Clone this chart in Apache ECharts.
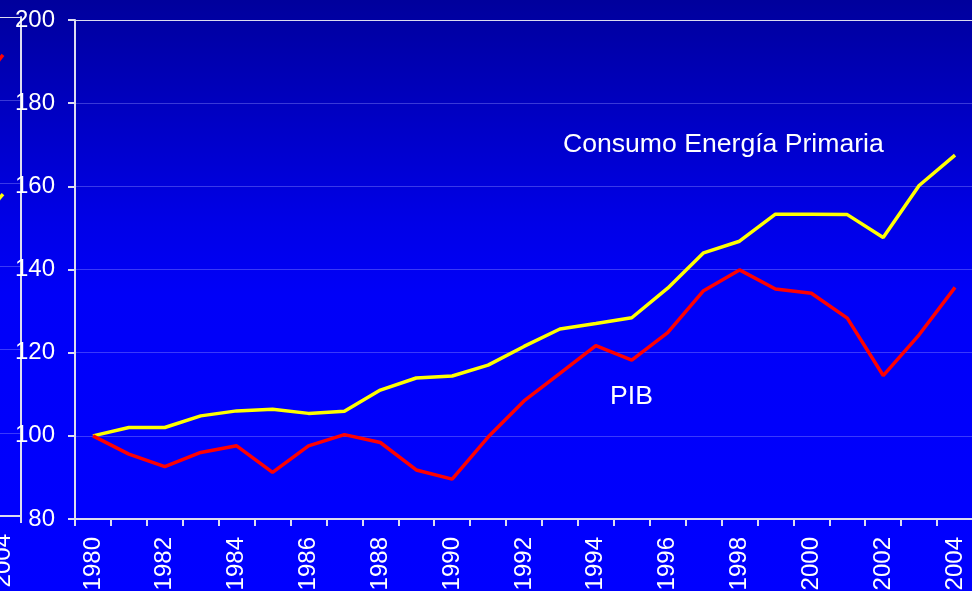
<!DOCTYPE html>
<html>
<head>
<meta charset="utf-8">
<script src="https://cdn.jsdelivr.net/npm/echarts@6/dist/echarts.min.js"></script>
<style>
html,body{margin:0;padding:0;}
#chart{width:972px;height:591px;background:linear-gradient(to bottom,#00009c 0%,#0000b4 12%,#0000cc 24%,#0000e8 38%,#0000f8 50%,#0000ff 100%);}
</style>
</head>
<body>
<div id="chart"></div>
<script>
// Main chart data
const years = ['1980','1981','1982','1983','1984','1985','1986','1987','1988','1989','1990','1991','1992','1993','1994','1995','1996','1997','1998','1999','2000','2001','2002','2003','2004'];
const consumoEnergia = [100,102.0,102.0,104.8,106.0,106.4,105.4,105.9,111.0,113.9,114.4,117.0,121.5,125.7,127.0,128.4,135.5,144.0,146.8,153.3,153.3,153.2,147.7,160.2,167.5];
const pib = [100,95.6,92.6,96.0,97.6,91.2,97.6,100.3,98.4,91.8,89.6,99.7,108.4,115.0,121.7,118.2,124.8,134.9,139.9,135.3,134.3,128.3,114.5,124.3,135.7];
const yTicks = {min:80, max:200, step:20};

// Clipped neighbouring chart (only its last years are visible)
const leftYears = ['2003','2004'];
const leftRed = [180.0,190.9];
const leftYellow = [147.5,157.4];

const axisColor = '#dcdcf0';
const gridColor = 'rgba(150,150,255,0.38)';
const font = 'Liberation Sans, Arial, sans-serif';

const chart = echarts.init(document.getElementById('chart'), null, {renderer:'canvas'});
chart.setOption({
  backgroundColor: 'transparent',
  animation: false,
  grid: [
    {left:75, top:20, width:898, bottom:72, containLabel:false, outerBoundsMode:'none'},
    {left:-51, top:17, width:72, bottom:75, containLabel:false, outerBoundsMode:'none'}
  ],
  xAxis: [
    {
      type:'category', gridIndex:0, data:years, boundaryGap:true,
      axisLine:{lineStyle:{color:axisColor, width:2}},
      axisTick:{show:true, interval:0, length:7, lineStyle:{color:axisColor, width:2}},
      axisLabel:{interval:1, rotate:90, margin:18, color:'#ffffff', fontSize:24, fontFamily:font},
      splitLine:{show:false}
    },
    {
      type:'category', gridIndex:1, data:leftYears, boundaryGap:true,
      axisLine:{lineStyle:{color:axisColor, width:2}},
      axisTick:{show:true, interval:0, length:7, lineStyle:{color:axisColor, width:2}},
      axisLabel:{interval:0, rotate:90, margin:18, color:'#ffffff', fontSize:24, fontFamily:font},
      splitLine:{show:false}
    }
  ],
  yAxis: [
    {
      type:'value', gridIndex:0, min:yTicks.min, max:yTicks.max, interval:yTicks.step,
      axisLine:{show:true, lineStyle:{color:axisColor, width:2}},
      axisTick:{show:true, length:7, lineStyle:{color:axisColor, width:2}},
      axisLabel:{margin:20, color:'#ffffff', fontSize:24, fontFamily:font},
      splitLine:{show:true, lineStyle:{color:['transparent',gridColor,gridColor,gridColor,gridColor,gridColor,axisColor], width:1}}
    },
    {
      type:'value', gridIndex:1, position:'right', min:yTicks.min, max:yTicks.max, interval:yTicks.step,
      axisLine:{show:true, lineStyle:{color:axisColor, width:2}},
      axisTick:{show:false},
      axisLabel:{show:false},
      splitLine:{show:true, lineStyle:{color:['transparent',gridColor,gridColor,gridColor,gridColor,gridColor,axisColor], width:1}}
    }
  ],
  series: [
    {name:'Consumo Energía Primaria', type:'line', xAxisIndex:0, yAxisIndex:0, data:consumoEnergia, showSymbol:false, symbol:'none',
      lineStyle:{color:'#ffff00', width:3.5}, z:3},
    {name:'PIB', type:'line', xAxisIndex:0, yAxisIndex:0, data:pib, showSymbol:false, symbol:'none',
      lineStyle:{color:'#ff0000', width:3.5}, z:3},
    {type:'line', xAxisIndex:1, yAxisIndex:1, data:leftRed, showSymbol:false, symbol:'none',
      lineStyle:{color:'#ff0000', width:3.5}},
    {type:'line', xAxisIndex:1, yAxisIndex:1, data:leftYellow, showSymbol:false, symbol:'none',
      lineStyle:{color:'#ffff00', width:3.5}}
  ],
  graphic: [
    {type:'text', left:563, top:131, style:{text:'Consumo Energía Primaria', fill:'#ffffff', fontSize:26.6, fontFamily:font}},
    {type:'text', left:610, top:383, style:{text:'PIB', fill:'#ffffff', fontSize:26.6, fontFamily:font}}
  ]
});
</script>
</body>
</html>
